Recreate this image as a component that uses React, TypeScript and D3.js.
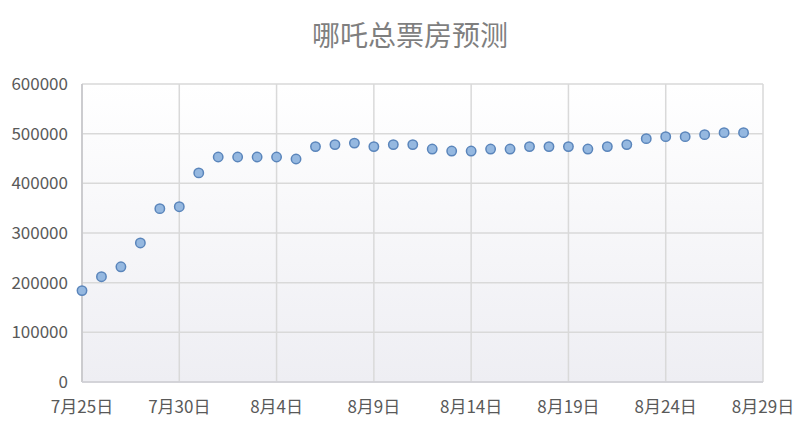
import React from "react";
import * as d3 from "d3";

const TITLE = "哪吒总票房预测";
const START = new Date(2019, 6, 25);
const END = new Date(2019, 7, 29);
// daily forecast of cumulative box office, from 7月25日 onward
const boxOffice = [
  184000, 212000, 232000, 280000, 349000, 353000, 421000,
  453000, 453000, 453000, 453000, 449000, 474000, 478000, 481000,
  474000, 478000, 478000, 469000, 465000, 465000, 469000, 469000,
  474000, 474000, 474000, 469000, 474000, 478000, 490000, 494000,
  494000, 498000, 502000, 502000,
];
const yTicks = [0, 100000, 200000, 300000, 400000, 500000, 600000];
const xTickDates = [
  new Date(2019, 6, 25), new Date(2019, 6, 30), new Date(2019, 7, 4),
  new Date(2019, 7, 9), new Date(2019, 7, 14), new Date(2019, 7, 19),
  new Date(2019, 7, 24), new Date(2019, 7, 29),
];

const W = 802, H = 428;
const M = { left: 82, right: 39, top: 84, bottom: 46 };
const FONT = "'Noto Sans CJK SC', 'Noto Sans', sans-serif";

export default function App() {
  const x = d3.scaleTime().domain([START, END]).range([M.left, W - M.right]);
  const y = d3.scaleLinear().domain([0, 600000]).range([H - M.bottom, M.top]);
  const pts = boxOffice.map((v, i) => ({ d: d3.timeDay.offset(START, i), v }));
  const fmt = (d: Date) => `${d.getMonth() + 1}月${d.getDate()}日`;
  const x0 = M.left, x1 = W - M.right, y0 = H - M.bottom, y1 = M.top;

  return (
    <svg width={W} height={H} style={{ position: "absolute", left: 0, top: 0, background: "#fff" }}>
      <defs>
        <linearGradient id="plotBg" x1="0" y1="0" x2="0" y2="1">
          <stop offset="0" stopColor="#ffffff" />
          <stop offset="1" stopColor="#eeeef3" />
        </linearGradient>
      </defs>
      <text x={410} y={46} textAnchor="middle" fontFamily={FONT} fontSize={28} fill="#7f7f7f">
        {TITLE}
      </text>
      <rect x={x0} y={y1} width={x1 - x0} height={y0 - y1} fill="url(#plotBg)" />
      {yTicks.map((t) => (
        <line key={"gy" + t} x1={x0} x2={x1} y1={y(t)} y2={y(t)} stroke="#d9d9d9" strokeWidth={1.5} />
      ))}
      {xTickDates.map((d, i) => (
        <line key={"gx" + i} x1={x(d)} x2={x(d)} y1={y1} y2={y0} stroke="#d9d9d9" strokeWidth={1.5} />
      ))}
      <line x1={x0} x2={x0} y1={y1} y2={y0} stroke="#c4c4c8" strokeWidth={1.5} />
      <line x1={x0} x2={x1} y1={y0} y2={y0} stroke="#cfcfd6" strokeWidth={1.5} />
      {yTicks.map((t) => (
        <text key={"ly" + t} x={68} y={y(t)} dy="0.35em" textAnchor="end" fontFamily={FONT} fontSize={17} fill="#595959">
          {t}
        </text>
      ))}
      {xTickDates.map((d, i) => (
        <text key={"lx" + i} x={x(d)} y={413} textAnchor="middle" fontFamily={FONT} fontSize={17} fill="#595959">
          {fmt(d)}
        </text>
      ))}
      {pts.map((p, i) => (
        <circle key={i} cx={x(p.d)} cy={y(p.v)} r={4.7} fill="#95b8e0" stroke="#5a85bb" strokeWidth={1.5} />
      ))}
    </svg>
  );
}
